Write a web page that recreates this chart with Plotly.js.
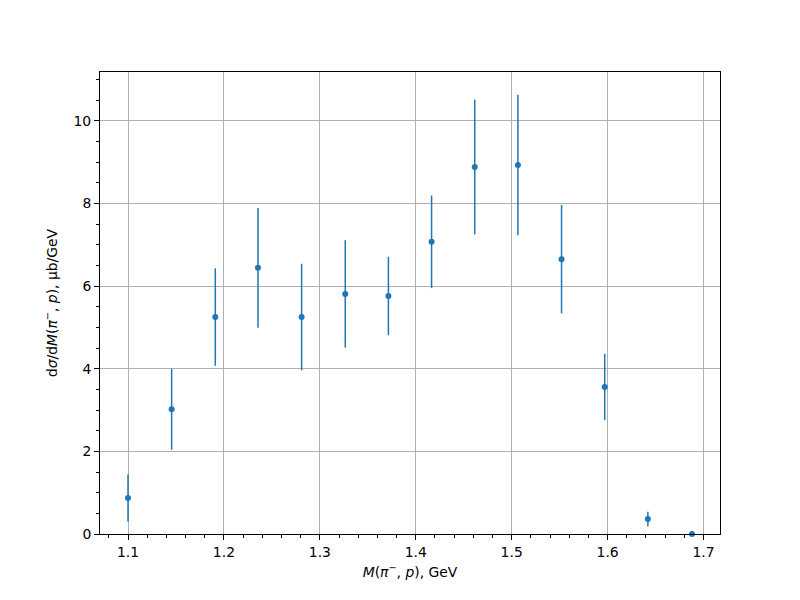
<!DOCTYPE html>
<html>
<head>
<meta charset="utf-8">
<script src="https://cdn.plot.ly/plotly-3.0.1.min.js"></script>
<style>html,body{margin:0;padding:0;background:#fff;}</style>
</head>
<body>
<div id="chart" style="width:800px;height:600px;"></div>
<script>
const massGeV = [1.1, 1.1455, 1.191, 1.2355, 1.281, 1.3265, 1.3715, 1.4165, 1.4615, 1.5065, 1.552, 1.597, 1.642, 1.688];
const dSigma = [0.87, 3.02, 5.25, 6.44, 5.25, 5.81, 5.76, 7.07, 8.88, 8.93, 6.65, 3.56, 0.36, 0.0];
const dSigmaErr = [0.57, 0.98, 1.18, 1.45, 1.29, 1.30, 0.95, 1.12, 1.63, 1.70, 1.31, 0.80, 0.18, 0.0];
const xTicks = [1.1, 1.2, 1.3, 1.4, 1.5, 1.6, 1.7];
const yTicks = [0, 2, 4, 6, 8, 10];

const font = {family: 'DejaVu Sans, sans-serif', size: 13.9, color: '#000'};

const trace = {
  x: massGeV,
  y: dSigma,
  type: 'scatter',
  mode: 'markers',
  marker: {color: '#1f77b4', size: 6},
  error_y: {type: 'data', array: dSigmaErr, visible: true, color: '#1f77b4', thickness: 1.5, width: 0},
  showlegend: false,
  cliponaxis: false
};

const axisCommon = {
  showline: true, linecolor: '#000', linewidth: 1, mirror: true,
  ticks: 'outside', ticklen: 5, tickwidth: 1, tickcolor: '#000',
  showgrid: true, gridcolor: '#b0b0b0', gridwidth: 1,
  zeroline: false, tickfont: font
};

const layout = {
  width: 800, height: 600,
  margin: {l: 100, r: 80, t: 72, b: 66},
  paper_bgcolor: '#fff', plot_bgcolor: '#fff',
  font: font,
  xaxis: Object.assign({}, axisCommon, {
    range: [1.0708, 1.7172],
    tickmode: 'array', tickvals: xTicks, ticktext: xTicks.map(v => v.toFixed(1)),
    minor: {dtick: 0.02, tick0: 1.0, ticks: 'outside', ticklen: 3, tickcolor: '#000', showgrid: false},
    title: {text: '<i>M</i>(<i>π</i><sup>−</sup>, <i>p</i>), GeV', font: font, standoff: 8}
  }),
  yaxis: Object.assign({}, axisCommon, {
    range: [0, 11.18],
    tickmode: 'array', tickvals: yTicks, ticktext: yTicks.map(String),
    minor: {dtick: 0.5, tick0: 0, ticks: 'outside', ticklen: 3, tickcolor: '#000', showgrid: false},
    title: {text: 'd<i>σ</i>/d<i>M</i>(<i>π</i><sup>−</sup>, <i>p</i>), μb/GeV', font: font, standoff: 12}
  })
};

Plotly.newPlot('chart', [trace], layout, {displayModeBar: false, staticPlot: true});
</script>
</body>
</html>
